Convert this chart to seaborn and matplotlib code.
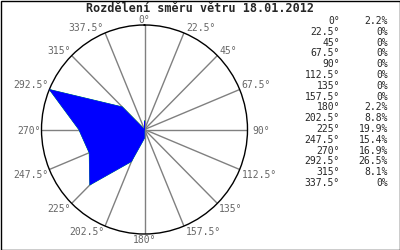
import numpy as np
import matplotlib
matplotlib.use("Agg")
import matplotlib.pyplot as plt
import seaborn as sns
import pandas as pd

title = "Rozdělení směru větru 18.01.2012"
directions = [0, 22.5, 45, 67.5, 90, 112.5, 135, 157.5, 180, 202.5, 225, 247.5, 270, 292.5, 315, 337.5]
dir_labels = ["0°", "22.5°", "45°", "67.5°", "90°", "112.5°", "135°", "157.5°", "180°",
              "202.5°", "225°", "247.5°", "270°", "292.5°", "315°", "337.5°"]
percents = [2.2, 0, 0, 0, 0, 0, 0, 0, 2.2, 8.8, 19.9, 15.4, 16.9, 26.5, 8.1, 0]
pct_labels = ["2.2%", "0%", "0%", "0%", "0%", "0%", "0%", "0%", "2.2%", "8.8%",
              "19.9%", "15.4%", "16.9%", "26.5%", "8.1%", "0%"]

sns.set_style("white")
plt.rcParams['font.family'] = ['DejaVu Sans Mono']

fig = plt.figure(figsize=(4, 2.5), dpi=100)
fig.patch.set_facecolor("white")
ax = fig.add_axes([41.5/400, 16/250, 206/400, 209/250], projection="polar")
ax.set_aspect("auto")
ax.set_theta_zero_location("N")
ax.set_theta_direction(-1)
rmax = max(percents)
ax.set_ylim(0, rmax)

df = pd.DataFrame({"theta": np.deg2rad(directions + [directions[0]]),
                   "r": percents + [percents[0]]})
sns.lineplot(data=df, x="theta", y="r", sort=False, ax=ax, color="#00ff00",
             linewidth=0.6, zorder=2, estimator=None)
ax.fill(df["theta"], df["r"], facecolor="#0000ff", edgecolor="#0000ff",
        zorder=3, linewidth=0.4)

ax.set_xticks(np.deg2rad(directions))
ax.set_xticklabels([])
ax.set_yticks([])
ax.grid(True, axis="x", color="#808080", linewidth=1)
ax.grid(False, axis="y")
ax.spines["polar"].set_color("black")
ax.spines["polar"].set_linewidth(1)
ax.set_xlabel("")
ax.set_ylabel("")

for d, lab in zip(directions, dir_labels):
    s = np.sin(np.deg2rad(d))
    c = np.cos(np.deg2rad(d))
    if abs(s) < 0.01:
        ha, dx = "center", 0
    elif s > 0:
        ha, dx = "left", 2
    else:
        ha, dx = "right", -1
    if abs(c) < 0.01:
        va, dy = "center", -1
        dx = 5 if s > 0 else -1
    elif c > 0:
        va, dy = "bottom", 0
    else:
        va, dy = "top", -1
    ax.annotate(lab, xy=(np.deg2rad(d), rmax), xytext=(dx, dy), textcoords="offset pixels",
                ha=ha, va=va, fontsize=7, color="#666666", annotation_clip=False)

fig.text(0.5, 1 - 9/250, title, ha="center", va="center", fontsize=8.5, fontweight="bold")

y0 = 21
for i, (dl, pl) in enumerate(zip(dir_labels, pct_labels)):
    y = 1 - (y0 + i * 10.8) / 250
    fig.text(340/400, y, dl, ha="right", va="center", fontsize=7)
    fig.text(388/400, y, pl, ha="right", va="center", fontsize=7)

border = plt.Rectangle((0.5/400, 0.5/250), 399/400, 249/250, transform=fig.transFigure,
                       fill=False, edgecolor="black", linewidth=1)
fig.add_artist(border)

fig.savefig("out.png", dpi=100)
